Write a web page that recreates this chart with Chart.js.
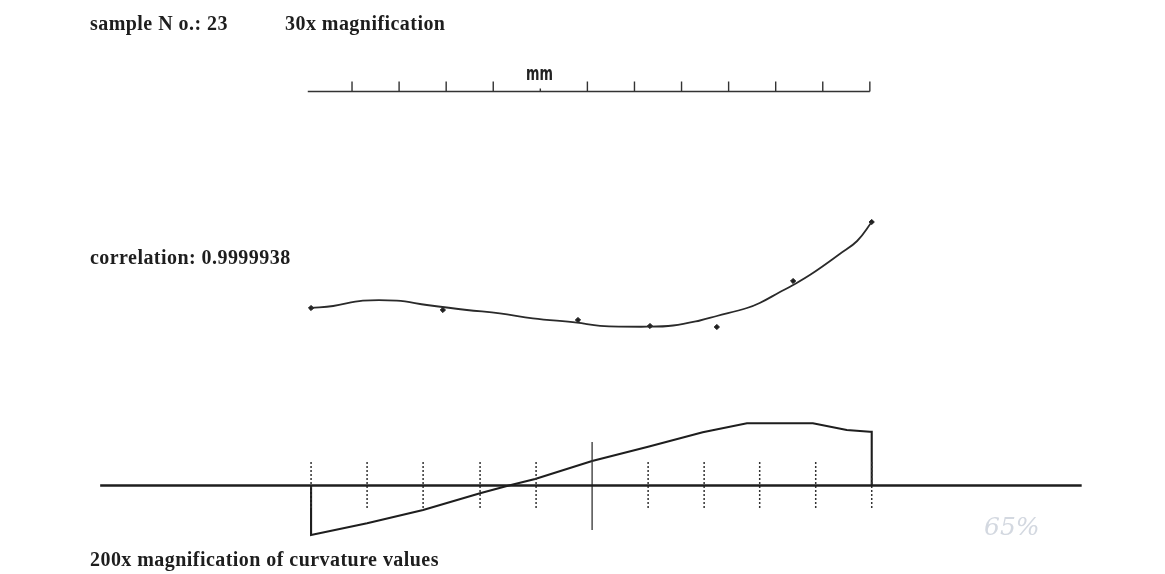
<!DOCTYPE html>
<html>
<head>
<meta charset="utf-8">
<script src="https://cdn.jsdelivr.net/npm/chart.js@4.4.1/dist/chart.umd.min.js"></script>
<style>
  body { margin: 0; background: #fff; }
  #wrap { position: relative; width: 1165px; height: 574px; overflow: hidden; }
  #chart { position: absolute; left: 0; top: 0; }
  .lbl { position: absolute; font-family: "Liberation Serif", serif; font-weight: bold; font-size: 20px; letter-spacing: 0.45px; color: #1e1e1e; white-space: nowrap; line-height: 1; }
  .mm { position: absolute; left: 526px; top: 64px; font-family: "DejaVu Sans", sans-serif; font-weight: bold; font-size: 19px; color: #222; transform: scaleX(0.68); transform-origin: left top; line-height: 1; }
  .note { position: absolute; left: 984px; top: 512px; font-family: "DejaVu Serif", serif; font-style: italic; font-size: 25px; color: #d3d8e0; }
</style>
</head>
<body>
<div id="wrap">
  <canvas id="chart" width="1165" height="574"></canvas>
  <div class="lbl" style="left:90px;top:13px">sample N o.: 23</div>
  <div class="lbl" style="left:285px;top:13px">30x magnification</div>
  <div class="mm">mm</div>
  <div class="lbl" style="left:90px;top:247px">correlation: 0.9999938</div>
  <div class="lbl" style="left:90px;top:549px">200x magnification of curvature values</div>
  <div class="note">65%</div>
</div>
<script>
// ruler (mm)
var rulerStart = 0.06;
var rulerTicks = [1, 2, 3, 4, 5, 6, 7, 8, 9, 10, 11, 12];

// measured profile at 30x (mm along sample, height)
var profileX = [0.13, 0.6, 1.23, 1.95, 2.59, 3.44, 4.14, 4.84, 5.78, 6.27, 7.33, 7.82, 8.39, 8.75, 9.39, 9.66, 10.09, 10.37, 10.79, 11.36, 11.73, 12.04];
var profileY = [2.2, 2.4, 2.93, 2.93, 2.5, 2.0, 1.67, 1.17, 0.73, 0.42, 0.33, 0.45, 0.95, 1.4, 2.2, 2.7, 3.8, 4.5, 5.7, 7.6, 8.9, 10.8];
var pointsX = [0.13, 2.93, 5.8, 7.33, 8.75, 10.37, 12.04];
var pointsY = [2.2, 2.0, 1.0, 0.4, 0.3, 4.9, 10.8];

// curvature at 200x
var curvX = [0.13, 0.13, 1.32, 2.51, 3.72, 4.29, 4.89, 6.1, 7.29, 8.45, 9.39, 10.79, 11.51, 12.0, 12.04, 12.04];
var curvY = [0, -4.95, -3.78, -2.45, -0.78, -0.05, 0.65, 2.45, 3.88, 5.32, 6.22, 6.22, 5.55, 5.38, 5.38, 0];
var divX = [0.13, 1.32, 2.51, 3.72, 4.91, 6.1, 7.29, 8.48, 9.66, 10.85, 12.04];
var axisX = [-4.35, 16.5];

function pts(xs, ys) {
  var out = [];
  for (var i = 0; i < xs.length; i++) out.push({x: xs[i], y: ys[i]});
  return out;
}

var tickPts = [];
for (var i = 0; i < rulerTicks.length; i++) {
  var t = rulerTicks[i];
  tickPts.push({x: t, y: 0});
  tickPts.push({x: t, y: t == 5 ? 0.3 : 1});
  tickPts.push({x: t, y: null});
}

var dotPts = [], midPts = [];
for (var i = 0; i < divX.length; i++) {
  if (i == 5) {
    midPts.push({x: divX[i], y: 4.35}, {x: divX[i], y: -4.45});
  } else {
    dotPts.push({x: divX[i], y: 2.35}, {x: divX[i], y: -2.25}, {x: divX[i], y: null});
  }
}

var ink = "#1e1e1e";
var base = {showLine: true, pointRadius: 0, fill: false, spanGaps: false, borderColor: ink, tension: 0};

new Chart(document.getElementById("chart").getContext("2d"), {
  type: "scatter",
  data: {
    datasets: [
      Object.assign({}, base, {data: [{x: rulerStart, y: 0}, {x: 12, y: 0}], yAxisID: "yR", borderWidth: 1.4, borderColor: "#333"}),
      Object.assign({}, base, {data: tickPts, yAxisID: "yR", borderWidth: 1.4, borderColor: "#333"}),
      Object.assign({}, base, {data: pts(profileX, profileY), yAxisID: "yC", borderWidth: 1.8, borderColor: "#2a2a2a", tension: 0.4}),
      {data: pts(pointsX, pointsY), yAxisID: "yC", showLine: false, pointStyle: "rectRot", pointRadius: 2.6, backgroundColor: ink, borderColor: ink, borderWidth: 1},
      Object.assign({}, base, {data: pts(axisX, [0, 0]), yAxisID: "yK", borderWidth: 2.3}),
      Object.assign({}, base, {data: dotPts, yAxisID: "yK", borderWidth: 1.5, borderDash: [2, 2], borderColor: "#333"}),
      Object.assign({}, base, {data: midPts, yAxisID: "yK", borderWidth: 1.3, borderColor: "#333"}),
      Object.assign({}, base, {data: pts(curvX, curvY), yAxisID: "yK", borderWidth: 2.1})
    ]
  },
  options: {
    responsive: false,
    animation: false,
    layout: {padding: 0, autoPadding: false},
    plugins: {legend: {display: false}, tooltip: {enabled: false}},
    scales: {
      x: {type: "linear", min: -6.478, max: 18.27, display: false},
      yR: {type: "linear", position: "left", min: -48.25, max: 9.15, display: false},
      yC: {type: "linear", position: "left", min: -24.4, max: 33.0, display: false},
      yK: {type: "linear", position: "left", min: -8.85, max: 48.55, display: false}
    }
  }
});
</script>
</body>
</html>
